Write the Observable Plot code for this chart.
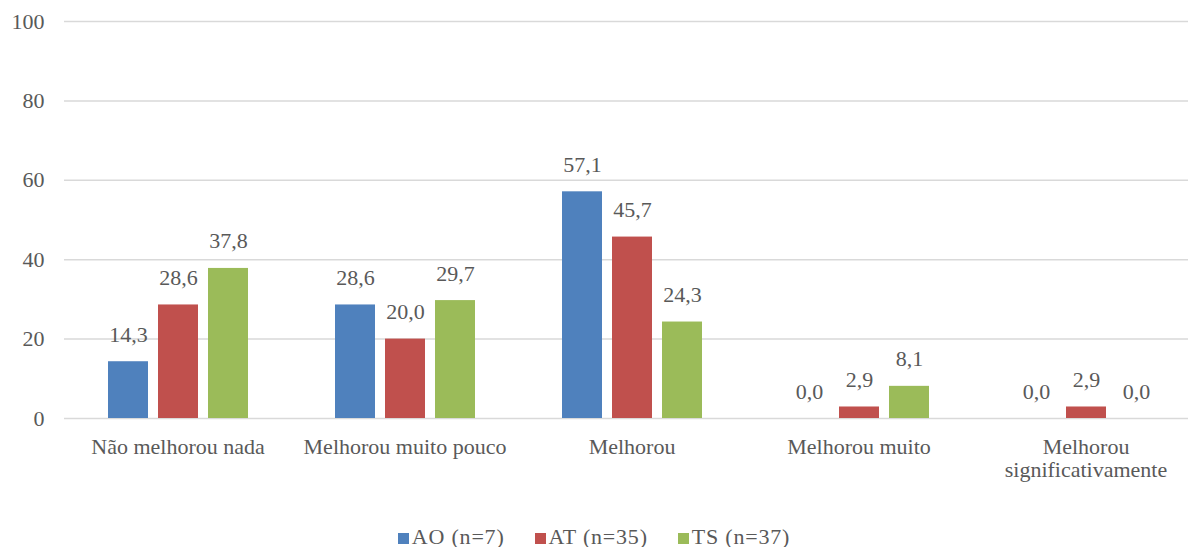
<!DOCTYPE html>
<html>
<head>
<meta charset="utf-8">
<script src="https://cdn.jsdelivr.net/npm/d3@7"></script>
<script src="https://cdn.jsdelivr.net/npm/@observablehq/plot@0.6"></script>
</head>
<body style="margin:0;background:#fff;overflow:hidden;font-family:'Liberation Serif'">
<div id="chart"></div>
<div id="legend" style="display:flex;justify-content:center;gap:30px;font-size:22px;letter-spacing:0.8px;color:#595959;height:24px;align-items:center;font-family:'Liberation Serif'"></div>
<script>
const categories = ["Não melhorou nada", "Melhorou muito pouco", "Melhorou", "Melhorou muito", "Melhorou significativamente"];
const categoryLabels = ["Não melhorou nada", "Melhorou muito pouco", "Melhorou", "Melhorou muito", "Melhorou\nsignificativamente"];
const series = ["AO (n=7)", "AT (n=35)", "TS (n=37)"];
const seriesColors = ["#4F81BD", "#C0504D", "#9BBB59"];
const valuesAO = [14.3, 28.6, 57.1, 0.0, 0.0];
const valuesAT = [28.6, 20.0, 45.7, 2.9, 2.9];
const valuesTS = [37.8, 29.7, 24.3, 8.1, 0.0];
const yTicks = [0, 20, 40, 60, 80, 100];

const seriesValues = [valuesAO, valuesAT, valuesTS];
const data = [];
categories.forEach((c, i) => {
  series.forEach((s, j) => {
    data.push({category: c, series: s, value: seriesValues[j][i]});
  });
});

const fmt = v => v.toFixed(1).replace(".", ",");
const labelOf = new Map(categories.map((c, i) => [c, categoryLabels[i]]));
const FONT = "Liberation Serif";

const chart = Plot.plot({
  width: 1188,
  height: 525,
  marginTop: 21,
  marginLeft: 63,
  marginRight: -12,
  marginBottom: 107,
  style: {fontFamily: FONT, fontSize: "22px", color: "#595959", background: "#fff", overflow: "hidden"},
  fx: {domain: categories, padding: 0, label: null},
  x: {domain: series, paddingInner: 0.2, paddingOuter: 0.87, axis: null},
  y: {domain: [0, 100], label: null},
  color: {domain: series, range: seriesColors},
  marks: [
    Plot.gridY(yTicks, {stroke: "#d9d9d9", strokeOpacity: 1, strokeWidth: 1.5}),
    Plot.axisY(yTicks, {tickSize: 0, tickPadding: 20, label: null, fontSize: 22, fontFamily: FONT, fill: "#595959"}),
    Plot.axisFx({anchor: "bottom", tickSize: 0, tickPadding: 19, label: null, fontSize: 22, fontFamily: FONT, fill: "#595959", tickFormat: c => labelOf.get(c), lineHeight: 1.05, letterSpacing: "1px"}),
    Plot.barY(data, {fx: "category", x: "series", y: "value", fill: "series"}),
    Plot.text(data, {fx: "category", x: "series", y: "value", text: d => fmt(d.value), lineAnchor: "bottom", dy: -20, fill: "#595959", fontSize: 22, fontFamily: FONT})
  ]
});
document.getElementById("chart").appendChild(chart);

const legend = document.getElementById("legend");
series.forEach((s, j) => {
  const item = document.createElement("div");
  item.style.fontFamily = FONT;
  item.innerHTML = `<span style="display:inline-block;width:11px;height:11px;margin-right:3px;background:${seriesColors[j]}"></span>${s}`;
  legend.appendChild(item);
});
</script>
</body>
</html>
